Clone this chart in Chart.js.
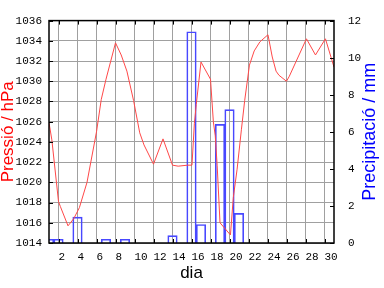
<!DOCTYPE html>
<html><head><meta charset="utf-8">
<script src="https://cdn.jsdelivr.net/npm/chart.js@4/dist/chart.umd.min.js"></script>
<style>html,body{margin:0;padding:0;background:#fff}#wrap{width:384px;height:288px}</style>
</head><body><div id="wrap"><canvas id="c" width="384" height="288"></canvas></div>
<script>
const pressureDays = [1, 1.3, 2, 2.2, 3, 3.6, 4.2, 5, 6, 6.5, 7, 8, 8.6, 9.2, 9.9, 10.55, 11, 12, 13, 14, 14.6, 15.6, 16.05, 16.3, 16.5, 17, 18, 18.3, 18.5, 18.7, 19, 20.1, 20.4, 20.8, 21.25, 21.6, 22.1, 22.6, 23.2, 24.05, 24.5, 24.9, 25.2, 26.0, 26.3, 28.1, 29.05, 30.1, 31];
const pressureValues = [1025.9, 1024.2, 1018.1, 1017.6, 1015.7, 1016.4, 1017.5, 1020.0, 1025.0, 1028.2, 1030.2, 1033.8, 1032.6, 1031.0, 1028.1, 1024.9, 1023.7, 1021.8, 1024.3, 1021.7, 1021.6, 1021.7, 1021.7, 1025.8, 1027.7, 1031.9, 1030.2, 1026.0, 1024.6, 1021.7, 1016.0, 1014.8, 1018.5, 1021.3, 1025.2, 1028.1, 1031.6, 1033.0, 1033.9, 1034.6, 1032.4, 1031.0, 1030.6, 1030.0, 1030.5, 1034.2, 1032.6, 1034.2, 1031.4];
const precipDays = [1, 2, 4, 7, 9, 14, 16, 17, 19, 20, 21];
const precipValues = [0.2, 0.2, 1.4, 0.2, 0.2, 0.4, 11.4, 1.0, 6.4, 7.2, 1.6];
const xTickValues = [2, 4, 6, 8, 10, 12, 14, 16, 18, 20, 22, 24, 26, 28, 30];
const xTitle = 'dia';
const yTitle = 'Pressió / hPa';
const y2Title = 'Precipitació / mm';

const tickFont = {family: 'Liberation Mono', size: 11};
const plain = v => String(v);

const framePlugin = {
  id: 'frame',
  afterDraw(chart) {
    const ctx = chart.ctx, a = chart.chartArea;
    const x = chart.scales.x, y = chart.scales.y, y1 = chart.scales.y1;
    ctx.save();
    ctx.strokeStyle = '#000';
    ctx.lineWidth = 1;
    const L = 4;
    ctx.beginPath();
    x.ticks.forEach(t => {
      const px = Math.round(x.getPixelForValue(t.value)) + 0.5;
      ctx.moveTo(px, a.bottom); ctx.lineTo(px, a.bottom - L);
      ctx.moveTo(px, a.top); ctx.lineTo(px, a.top + L);
    });
    y.ticks.forEach(t => {
      const py = Math.round(y.getPixelForValue(t.value)) + 0.5;
      ctx.moveTo(a.left, py); ctx.lineTo(a.left + L, py);
    });
    y1.ticks.forEach(t => {
      const py = Math.round(y1.getPixelForValue(t.value)) + 0.5;
      ctx.moveTo(a.right, py); ctx.lineTo(a.right - L, py);
    });
    ctx.stroke();
    ctx.lineWidth = 1.5;
    ctx.strokeRect(a.left, a.top, a.right - a.left, a.bottom - a.top);
    const cy = (a.top + a.bottom) / 2, cx = (a.left + a.right) / 2;
    ctx.textAlign = 'center';
    ctx.textBaseline = 'middle';
    ctx.font = '17px "Liberation Sans", Arial, sans-serif';
    ctx.fillStyle = '#ff0000';
    ctx.save(); ctx.translate(8, cy); ctx.rotate(-Math.PI / 2); ctx.fillText(yTitle, 0, 0); ctx.restore();
    ctx.font = '18px "Liberation Sans", Arial, sans-serif';
    ctx.fillStyle = '#0000ff';
    ctx.save(); ctx.translate(370, cy); ctx.rotate(-Math.PI / 2); ctx.fillText(y2Title, 0, 0); ctx.restore();
    ctx.font = '17px "Liberation Sans", Arial, sans-serif';
    ctx.fillStyle = '#000';
    ctx.textBaseline = 'alphabetic';
    ctx.fillText(xTitle, cx, 278);
    ctx.restore();
  }
};

new Chart(document.getElementById('c'), {
  data: {
    datasets: [
      {
        type: 'line',
        label: 'Pressió',
        data: pressureDays.map((d, i) => ({x: d, y: pressureValues[i]})),
        yAxisID: 'y',
        borderColor: '#ff4848',
        borderWidth: 1,
        pointRadius: 0,
        tension: 0,
        order: 0
      },
      {
        type: 'bar',
        label: 'Precipitació',
        data: precipDays.map((d, i) => ({x: d, y: precipValues[i]})),
        yAxisID: 'y1',
        backgroundColor: 'rgba(0,0,0,0)',
        borderColor: '#4848ff',
        borderWidth: 1,
        barPercentage: 1,
        categoryPercentage: 1,
        order: 1
      }
    ]
  },
  options: {
    responsive: false,
    animation: false,
    devicePixelRatio: 1,
    layout: {padding: {top: 14, left: 0, right: 0, bottom: 0}},
    plugins: {legend: {display: false}, tooltip: {enabled: false}},
    scales: {
      x: {
        type: 'linear', position: 'bottom', min: 1, max: 31, offset: false,
        afterBuildTicks: s => { s.ticks = xTickValues.map(v => ({value: v})); },
        afterFit: s => { s.height = 45; },
        grid: {color: '#a0a0a0', lineWidth: 1, drawTicks: false, offset: false},
        border: {display: false},
        ticks: {font: tickFont, color: '#000', padding: 7, align: 'start', maxRotation: 0, autoSkip: false, callback: plain}
      },
      y: {
        type: 'linear', position: 'left', min: 1014, max: 1036,
        ticks: {stepSize: 2, font: tickFont, color: '#000', padding: 7, callback: plain},
        afterFit: s => { s.width = 49; },
        grid: {color: '#a0a0a0', lineWidth: 1, drawTicks: false},
        border: {display: false}
      },
      y1: {
        type: 'linear', position: 'right', min: 0, max: 12,
        ticks: {stepSize: 2, font: tickFont, color: '#000', padding: 14, callback: plain},
        afterFit: s => { s.width = 50; },
        grid: {display: false, drawTicks: false},
        border: {display: false}
      }
    }
  },
  plugins: [framePlugin]
});
</script>
</body></html>
